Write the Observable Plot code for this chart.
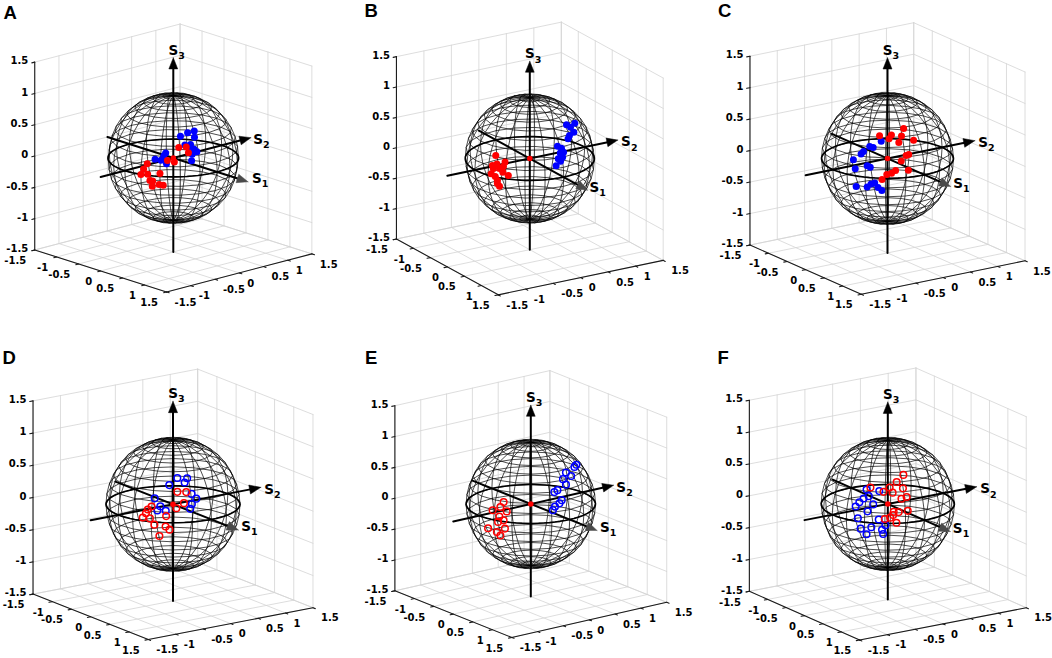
<!DOCTYPE html>
<html><head><meta charset="utf-8">
<script src="https://cdn.jsdelivr.net/npm/d3@7"></script>
<script src="https://cdn.jsdelivr.net/npm/@observablehq/plot@0.6"></script>
<style>
body{margin:0;background:#fff;}
#wrap{position:relative;width:1052px;height:658px;overflow:hidden;background:#fff;}
.panel{position:absolute;}
</style></head><body><div id="wrap"></div>
<script>
// ---- tick values / labels (shared by all panels) ----
const ticks = [-1.5, -1, -0.5, 0, 0.5, 1, 1.5];
const tickLabels = ["-1.5", "-1", "-0.5", "0", "0.5", "1", "1.5"];
const axisNames = ["1", "2", "3"];

// ---- Stokes parameters [S1, S2, S3] ----
const redA = [[0.72,-0.54,0.44],[0.78,-0.44,0.44],[0.83,-0.44,0.36],[0.73,-0.64,0.23],[0.65,-0.71,0.25],[0.40,-0.90,0.18],[0.35,-0.93,0.09],[0.31,-0.95,0.00],[0.42,-0.91,0.02],[0.45,-0.89,-0.08],[0.49,-0.87,-0.08],[0.59,-0.81,0.05],[0.47,-0.86,-0.17],[0.57,-0.81,-0.13],[0.62,-0.77,-0.14]];
const blueA = [[0.67,-0.46,0.59],[0.70,-0.34,0.63],[0.73,-0.23,0.64],[0.78,-0.27,0.56],[0.76,-0.45,0.47],[0.80,-0.37,0.47],[0.81,-0.41,0.42],[0.85,-0.34,0.40],[0.88,-0.31,0.36],[0.86,-0.39,0.33],[0.88,-0.42,0.24],[0.61,-0.71,0.36],[0.60,-0.74,0.32],[0.58,-0.78,0.25],[0.50,-0.83,0.26],[0.65,-0.73,0.20]];
const redB = [[0.39,-0.86,0.33],[0.55,-0.79,0.26],[0.44,-0.87,0.21],[0.37,-0.91,0.17],[0.50,-0.86,0.15],[0.63,-0.78,0.06],[0.55,-0.83,0.10],[0.37,-0.93,0.04],[0.44,-0.90,0.01],[0.47,-0.88,-0.05],[0.50,-0.86,-0.14],[0.47,-0.88,-0.10],[0.40,-0.91,0.13],[0.55,-0.82,0.19]];
const blueB = [[0.66,0.26,0.71],[0.68,0.32,0.66],[0.58,0.46,0.67],[0.73,0.35,0.59],[0.78,0.24,0.57],[0.82,0.19,0.54],[0.88,-0.04,0.48],[0.90,0.02,0.44],[0.93,-0.02,0.38],[0.95,0.01,0.31],[0.95,-0.07,0.30],[0.97,-0.04,0.26],[0.97,-0.12,0.20],[0.93,0.04,0.38]];
const redC = [[0.70,-0.18,0.69],[0.68,-0.39,0.62],[0.58,-0.54,0.61],[0.76,-0.26,0.60],[0.69,-0.44,0.57],[0.79,-0.33,0.52],[0.85,-0.10,0.53],[0.91,-0.23,0.34],[0.90,-0.27,0.33],[0.90,-0.36,0.26],[0.96,-0.27,0.11],[0.88,-0.45,0.12],[0.86,-0.51,0.08],[0.82,-0.57,0.06],[0.78,-0.63,-0.02]];
const blueC = [[0.64,-0.55,0.54],[0.55,-0.70,0.46],[0.60,-0.67,0.45],[0.50,-0.78,0.38],[0.48,-0.81,0.34],[0.39,-0.89,0.24],[0.60,-0.78,0.18],[0.64,-0.75,0.16],[0.44,-0.89,0.11],[0.45,-0.88,-0.17],[0.60,-0.78,-0.16],[0.66,-0.75,-0.10],[0.70,-0.71,-0.08],[0.73,-0.67,-0.15],[0.76,-0.62,-0.20]];
const redD = [[0.77,-0.46,0.45],[0.83,-0.34,0.44],[0.87,-0.41,0.29],[0.83,-0.52,0.22],[0.57,-0.79,0.23],[0.53,-0.83,0.18],[0.51,-0.85,0.12],[0.47,-0.88,0.05],[0.57,-0.82,0.05],[0.63,-0.78,-0.04],[0.75,-0.65,0.10],[0.75,-0.66,-0.06],[0.78,-0.61,-0.11],[0.66,-0.71,-0.22]];
const blueD = [[0.67,-0.39,0.63],[0.74,-0.26,0.62],[0.76,-0.32,0.57],[0.66,-0.53,0.54],[0.87,-0.27,0.41],[0.92,-0.22,0.34],[0.92,-0.30,0.27],[0.92,-0.33,0.20],[0.58,-0.74,0.35],[0.67,-0.70,0.24],[0.65,-0.74,0.18],[0.74,-0.65,0.18]];
const redE = [[0.43,-0.85,0.30],[0.40,-0.89,0.22],[0.28,-0.95,0.15],[0.51,-0.85,0.17],[0.40,-0.91,0.07],[0.47,-0.88,0.02],[0.38,-0.92,-0.02],[0.19,-0.97,-0.16],[0.49,-0.87,-0.11],[0.35,-0.92,-0.19],[0.40,-0.89,-0.24]];
const blueE = [[0.56,0.46,0.69],[0.63,0.37,0.69],[0.73,0.13,0.67],[0.77,0.20,0.61],[0.80,0.02,0.60],[0.85,0.04,0.52],[0.87,-0.14,0.47],[0.87,-0.20,0.45],[0.94,-0.11,0.32],[0.95,-0.16,0.28],[0.94,-0.24,0.24],[0.94,-0.28,0.19]];
const redF = [[0.54,-0.67,0.51],[0.73,-0.45,0.52],[0.74,-0.33,0.59],[0.71,-0.19,0.67],[0.70,-0.54,0.46],[0.78,-0.43,0.45],[0.82,-0.27,0.50],[0.89,-0.25,0.38],[0.87,-0.33,0.36],[0.87,-0.47,0.18],[0.90,-0.40,0.17],[0.95,-0.27,0.18],[0.81,-0.59,0.07],[0.85,-0.52,0.09],[0.90,-0.44,0.01],[0.87,-0.48,0.13]];
const blueF = [[0.51,-0.72,0.48],[0.66,-0.59,0.47],[0.57,-0.72,0.39],[0.52,-0.78,0.35],[0.48,-0.83,0.29],[0.44,-0.87,0.22],[0.66,-0.70,0.28],[0.61,-0.77,0.17],[0.50,-0.87,0.05],[0.75,-0.66,0.06],[0.53,-0.84,-0.11],[0.67,-0.74,-0.07],[0.60,-0.78,-0.19],[0.78,-0.62,-0.10],[0.78,-0.60,-0.17],[0.81,-0.58,-0.03]];
const originPoint = [[0, 0, 0]];

// ---- panel layout / camera (styling, not data) ----
const panels = [
  {letter:"A", red:redA, blue:blueA, open:false, left:0,   top:0,   width:350, ox:172.8, oy:157.5, s:65.4, az:42.2, el:16.8, lx:3,    ly:5},
  {letter:"B", red:redB, blue:blueB, open:false, left:350, top:0,   width:350, ox:529.3, oy:158.0, s:64.6, az:31.7, el:19.8, lx:14,   ly:3.5},
  {letter:"C", red:redC, blue:blueC, open:false, left:700, top:0,   width:352, ox:887.0, oy:158.0, s:66.0, az:34.2, el:17.5, lx:17.5, ly:3.5},
  {letter:"D", red:redD, blue:blueD, open:true,  left:0,   top:329, width:350, ox:172.5, oy:503.8, s:67.0, az:35.0, el:16.0, lx:2,    ly:21},
  {letter:"E", red:redE, blue:blueE, open:true,  left:350, top:329, width:350, ox:530.3, oy:503.5, s:64.7, az:37.0, el:17.5, lx:14.5, ly:21},
  {letter:"F", red:redF, blue:blueF, open:true,  left:700, top:329, width:352, ox:887.3, oy:503.5, s:66.6, az:33.5, el:17.0, lx:17,   ly:21.5}
];
const H = 329;
const tickFont = "DejaVu Sans, Verdana, sans-serif";

function buildPanel(v) {
  const A = v.az * Math.PI / 180, E = v.el * Math.PI / 180;
  const sa = Math.sin(A), ca = Math.cos(A), se = Math.sin(E), ce = Math.cos(E);
  const P = ([x, y, z]) => ({u: x * sa + y * ca, w: -x * ca * se + y * sa * se + z * ce});
  const oxl = v.ox - v.left, oyl = v.oy - v.top;
  const lo = ticks[0], hi = ticks[ticks.length - 1];

  // back walls and floor grid at tick positions
  const grid = []; let gid = 0;
  const seg = (arr, p, q, key) => { arr.push({...P(p), id: key}); arr.push({...P(q), id: key}); };
  for (const t of ticks) {
    seg(grid, [lo, t, lo], [lo, t, hi], gid++);
    seg(grid, [lo, lo, t], [lo, hi, t], gid++);
    seg(grid, [t, hi, lo], [t, hi, hi], gid++);
    seg(grid, [lo, hi, t], [hi, hi, t], gid++);
    seg(grid, [t, lo, lo], [t, hi, lo], gid++);
    seg(grid, [lo, t, lo], [hi, t, lo], gid++);
  }
  // axis lines and tick marks
  const axes = []; let aid = 0;
  seg(axes, [lo, lo, lo], [lo, lo, hi], aid++);
  seg(axes, [lo, lo, lo], [hi, lo, lo], aid++);
  seg(axes, [hi, lo, lo], [hi, hi, lo], aid++);
  for (const t of ticks) {
    seg(axes, [lo, lo, t], [lo, lo - 0.06, t], aid++);
    seg(axes, [t, lo, lo], [t, lo - 0.06, lo], aid++);
    seg(axes, [hi, t, lo], [hi + 0.06, t, lo], aid++);
  }
  const zLab = ticks.map((t, i) => ({...P([lo, lo, t]), label: tickLabels[i]}));
  const xLab = ticks.map((t, i) => ({...P([t, lo, lo]), label: tickLabels[i]}));
  const yLab = ticks.map((t, i) => ({...P([hi, t, lo]), label: tickLabels[i]}));

  // unit sphere wireframe (MATLAB sphere(20))
  const mesh = []; let mid = 0; const N = 20;
  for (let j = 0; j < N; j++) {
    const th = -Math.PI + j * 2 * Math.PI / N;
    for (let i = 0; i <= N; i++) {
      const ph = -Math.PI / 2 + i * Math.PI / N;
      mesh.push({...P([Math.cos(ph) * Math.cos(th), Math.cos(ph) * Math.sin(th), Math.sin(ph)]), id: mid});
    }
    mid++;
  }
  for (let i = 1; i < N; i++) {
    const ph = -Math.PI / 2 + i * Math.PI / N;
    for (let j = 0; j <= N; j++) {
      const th = -Math.PI + j * 2 * Math.PI / N;
      mesh.push({...P([Math.cos(ph) * Math.cos(th), Math.cos(ph) * Math.sin(th), Math.sin(ph)]), id: mid});
    }
    mid++;
  }
  const equator = d3.range(0, 73).map(k => P([Math.cos(k * Math.PI / 36), Math.sin(k * Math.PI / 36), 0]));

  // S1, S2, S3 arrows
  const axisDefs = [
    {from: [-1.5, 0, 0], to: [1.7, 0, 0], head: "#4a4a4a", label: [1.9, 0, 0.1]},
    {from: [0, -1.5, 0], to: [0, 1.6, 0], head: "#000", label: [0, 1.75, -0.06]},
    {from: [0, 0, -1.5], to: [0, 0, 1.6], head: "#000", label: [0, 0, 1.72]}
  ];
  const L = 0.17, hw = 0.068;
  const shafts = [], heads = [], sLabels = [];
  axisDefs.forEach((ax, k) => {
    const F = P(ax.from), T = P(ax.to);
    let du = T.u - F.u, dw = T.w - F.w; const len = Math.hypot(du, dw); du /= len; dw /= len;
    const B = {u: T.u - du * L, w: T.w - dw * L};
    shafts.push({...F, id: k}, {u: B.u + du * 0.03, w: B.w + dw * 0.03, id: k});
    heads.push({pts: [T, {u: B.u - dw * hw, w: B.w + du * hw}, {u: B.u + dw * hw, w: B.w - du * hw}, T], color: ax.head});
    sLabels.push({...P(ax.label), sub: axisNames[k]});
  });

  const textBase = {fontFamily: tickFont, fontWeight: "bold", fill: "#000"};
  const marks = [
    Plot.line(grid, {x: "u", y: "w", z: "id", stroke: "#d4d4d4", strokeWidth: 0.8}),
    Plot.line(mesh, {x: "u", y: "w", z: "id", stroke: "#000", strokeWidth: 0.7}),
    Plot.line(equator, {x: "u", y: "w", stroke: "#000", strokeWidth: 1.6}),
    Plot.line(axes, {x: "u", y: "w", z: "id", stroke: "#1a1a1a", strokeWidth: 1.1}),
    Plot.text(zLab, {x: "u", y: "w", text: "label", textAnchor: "end", lineAnchor: "middle", dx: -6.5, dy: -1, fontSize: 10, ...textBase}),
    Plot.text(xLab, {x: "u", y: "w", text: "label", textAnchor: "end", lineAnchor: "middle", dx: -8.5, dy: 11, fontSize: 10, ...textBase}),
    Plot.text(yLab, {x: "u", y: "w", text: "label", textAnchor: "start", lineAnchor: "middle", dx: 8, dy: 10.5, fontSize: 10, ...textBase}),
    Plot.line(shafts, {x: "u", y: "w", z: "id", stroke: "#000", strokeWidth: 2}),
    ...heads.map(h => Plot.line(h.pts, {x: "u", y: "w", fill: h.color, stroke: h.color, strokeWidth: 0.5})),
    Plot.text(sLabels, {x: "u", y: "w", text: () => "S", textAnchor: "middle", lineAnchor: "middle", fontSize: 13.5, ...textBase}),
    Plot.text(sLabels, {x: "u", y: "w", text: "sub", textAnchor: "start", lineAnchor: "middle", dx: 5, dy: 5.5, fontSize: 9.5, ...textBase}),
    Plot.dot(originPoint.map(P), {x: "u", y: "w", r: 2.8, fill: "#ff0000"})
  ];
  if (v.open) {
    marks.push(Plot.dot(v.blue.map(P), {x: "u", y: "w", r: 3.3, fill: "none", stroke: "#0000ff", strokeWidth: 1.5}));
    marks.push(Plot.dot(v.red.map(P), {x: "u", y: "w", r: 3.3, fill: "none", stroke: "#ff0000", strokeWidth: 1.5}));
  } else {
    marks.push(Plot.dot(v.blue.map(P), {x: "u", y: "w", r: 3.5, fill: "#0000ff"}));
    marks.push(Plot.dot(v.red.map(P), {x: "u", y: "w", r: 3.5, fill: "#ff0000"}));
  }
  marks.push(Plot.text([v.letter], {frameAnchor: "top-left", dx: v.lx, dy: v.ly, textAnchor: "start", lineAnchor: "top", fontSize: 18.5, fontWeight: "bold", fontFamily: "Liberation Sans, Arial, sans-serif", fill: "#000"}));

  return Plot.plot({
    width: v.width, height: H, margin: 0,
    x: {domain: [-oxl / v.s, (v.width - oxl) / v.s], axis: null},
    y: {domain: [(oyl - H) / v.s, oyl / v.s], axis: null},
    style: {background: "transparent", overflow: "visible"},
    marks
  });
}

const wrap = document.getElementById("wrap");
for (const v of panels) {
  const div = document.createElement("div");
  div.className = "panel";
  div.style.left = v.left + "px";
  div.style.top = v.top + "px";
  div.appendChild(buildPanel(v));
  wrap.appendChild(div);
}
</script>
</body></html>
